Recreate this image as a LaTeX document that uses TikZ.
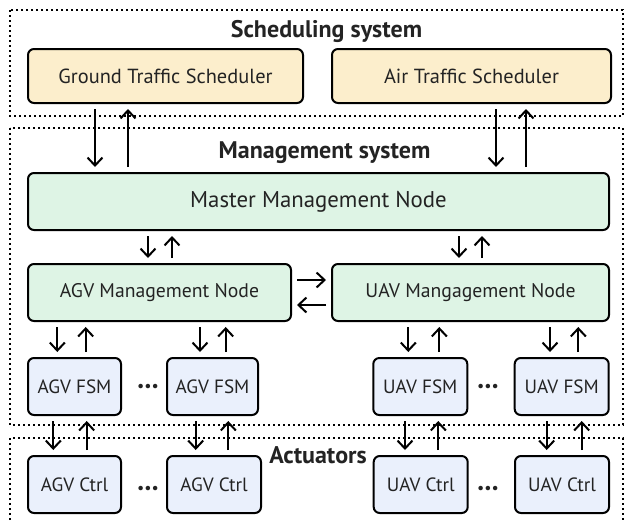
\documentclass[tikz,border=0pt]{standalone}
\usepackage{fontspec}
\setmainfont{PT Sans}
\usetikzlibrary{arrows.meta}
\definecolor{schedfill}{RGB}{252,238,204}
\definecolor{mgmtfill}{RGB}{222,244,229}
\definecolor{fsmfill}{RGB}{234,240,252}
\definecolor{txt}{RGB}{35,35,35}
\begin{document}
\begin{tikzpicture}[x=1pt,y=-1pt,
  box/.style={draw=black, line width=2pt, rounded corners=6pt, inner sep=0pt, text=txt},
  sched/.style={box, fill=schedfill, minimum height=54pt, font=\fontsize{20.4}{22}\selectfont},
  mgmt/.style={box, fill=mgmtfill, minimum height=57pt},
  fsm/.style={box, fill=fsmfill, minimum height=57pt, font=\fontsize{19.2}{21}\selectfont},
  title/.style={font=\bfseries\fontsize{24}{26}\selectfont, text=txt, inner sep=0pt},
  dotsn/.style={font=\fontsize{16}{16}\selectfont, text=txt, inner sep=0pt},
  region/.style={draw=black, line width=2pt, dash pattern=on 2pt off 3pt},
  arr/.style={-{Straight Barb[length=8pt,width=15pt]}, line width=2pt, shorten <=5pt, shorten >=5pt},
]
\useasboundingbox (0,0) rectangle (626,520);
% regions
\draw[region] (10,10) rectangle (623,116);
\draw[region] (10,128) rectangle (623,425);
\draw[region] (10,530) -- (10,438) -- (623,438) -- (623,530);
\node[title] (tsched) at (326.5,31) {Scheduling system};
\node[title] (tmgmt) at (324.5,153) {Management system};
\node[title] (tact) at (318,455) {Actuators};
% schedulers
\node[sched, minimum width=275pt] (gts) at (165.5,76) {Ground Traffic Scheduler};
\node[sched, minimum width=279pt] (ats) at (471.5,76) {Air Traffic Scheduler};
% management
\node[mgmt, minimum width=581pt, font=\fontsize{22.8}{25}\selectfont] (mm) at (318.5,201.5) {Master Management Node};
\node[mgmt, minimum width=263pt, font=\fontsize{19.7}{22}\selectfont] (agvm) at (159.5,292.5) {AGV Management Node};
\node[mgmt, minimum width=277pt, font=\fontsize{19.7}{22}\selectfont] (uavm) at (470.5,292.5) {UAV Mangagement Node};
% FSMs
\node[fsm, minimum width=93pt] (af1) at (74.5,386.5) {AGV FSM};
\node[fsm, minimum width=91pt] (af2) at (212.5,386.5) {AGV FSM};
\node[fsm, minimum width=94pt] (uf1) at (420.3,386.5) {UAV FSM};
\node[fsm, minimum width=94pt] (uf2) at (561.7,386.5) {UAV FSM};
\node[dotsn] (dA) at (148,387.5) {•••};
\node[dotsn] (dB) at (488,387.5) {•••};
% Ctrls
\node[fsm, minimum width=93pt] (ac1) at (74.5,484.5) {AGV Ctrl};
\node[fsm, minimum width=94pt] (ac2) at (214,484.5) {AGV Ctrl};
\node[fsm, minimum width=94pt] (uc1) at (420.7,484.5) {UAV Ctrl};
\node[fsm, minimum width=94pt] (uc2) at (562,484.5) {UAV Ctrl};
\node[dotsn] (dC) at (148,490) {•••};
\node[dotsn] (dD) at (488,490) {•••};
% scheduler <-> master
\draw[arr] ([xshift=-70.5pt]gts.south) -- ([xshift=-70.5pt]gts.south |- mm.north);
\draw[arr] ([xshift=-37.5pt]gts.south |- mm.north) -- ([xshift=-37.5pt]gts.south);
\draw[arr] ([xshift=24.5pt]ats.south) -- ([xshift=24.5pt]ats.south |- mm.north);
\draw[arr] ([xshift=54.5pt]ats.south |- mm.north) -- ([xshift=54.5pt]ats.south);
% master <-> sub managers
\draw[arr] ([xshift=-11.5pt]agvm.north |- mm.south) -- ([xshift=-11.5pt]agvm.north);
\draw[arr] ([xshift=12.5pt]agvm.north) -- ([xshift=12.5pt]agvm.north |- mm.south);
\draw[arr] ([xshift=-11.5pt]uavm.north |- mm.south) -- ([xshift=-11.5pt]uavm.north);
\draw[arr] ([xshift=11.5pt]uavm.north) -- ([xshift=11.5pt]uavm.north |- mm.south);
% AGV <-> UAV managers
\draw[arr] ([yshift=12.5pt]agvm.east) -- ([yshift=12.5pt]agvm.east -| uavm.west);
\draw[arr] ([yshift=-12.5pt]agvm.east -| uavm.west) -- ([yshift=-12.5pt]agvm.east);
% managers <-> FSMs
\draw[arr] ([xshift=-17.2pt]af1.north |- agvm.south) -- ([xshift=-17.2pt]af1.north);
\draw[arr] ([xshift=11.2pt]af1.north) -- ([xshift=11.2pt]af1.north |- agvm.south);
\draw[arr] ([xshift=-12.5pt]af2.north |- agvm.south) -- ([xshift=-12.5pt]af2.north);
\draw[arr] ([xshift=13.2pt]af2.north) -- ([xshift=13.2pt]af2.north |- agvm.south);
\draw[arr] ([xshift=-12pt]uf1.north |- uavm.south) -- ([xshift=-12pt]uf1.north);
\draw[arr] ([xshift=19pt]uf1.north) -- ([xshift=19pt]uf1.north |- uavm.south);
\draw[arr] ([xshift=-11.7pt]uf2.north |- uavm.south) -- ([xshift=-11.7pt]uf2.north);
\draw[arr] ([xshift=16.6pt]uf2.north) -- ([xshift=16.6pt]uf2.north |- uavm.south);
% FSMs <-> Ctrls
\draw[arr] ([xshift=-21.2pt]af1.south) -- ([xshift=-21.2pt]af1.south |- ac1.north);
\draw[arr] ([xshift=12.2pt]af1.south |- ac1.north) -- ([xshift=12.2pt]af1.south);
\draw[arr] ([xshift=-16.8pt]af2.south) -- ([xshift=-16.8pt]af2.south |- ac2.north);
\draw[arr] ([xshift=15.8pt]af2.south |- ac2.north) -- ([xshift=15.8pt]af2.south);
\draw[arr] ([xshift=-15.3pt]uf1.south) -- ([xshift=-15.3pt]uf1.south |- uc1.north);
\draw[arr] ([xshift=18pt]uf1.south |- uc1.north) -- ([xshift=18pt]uf1.south);
\draw[arr] ([xshift=-15pt]uf2.south) -- ([xshift=-15pt]uf2.south |- uc2.north);
\draw[arr] ([xshift=20pt]uf2.south |- uc2.north) -- ([xshift=20pt]uf2.south);
\end{tikzpicture}
\end{document}
